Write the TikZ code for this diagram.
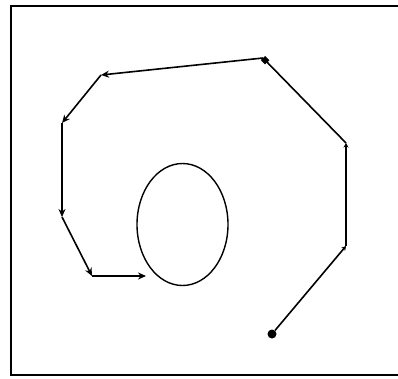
\documentclass[tikz,border=0pt]{standalone}
\usepackage{tikz}
\usetikzlibrary{arrows.meta,shapes.geometric}

\begin{document}
\begin{tikzpicture}[
    x=1pt, y=-1pt,
    frame/.style={line width=1.8pt, black},
    leg/.style={line width=1.6pt, -{Stealth[length=8pt,width=7pt]}},
    smallleg/.style={line width=1.6pt, -{Stealth[length=4.5pt,width=5pt]}},
    sqleg/.style={line width=1.6pt, -{Square[length=6pt,width=6pt]}},
    dot/.style={circle, fill=black, inner sep=0pt, minimum size=9pt},
    obstacle/.style={ellipse, draw, line width=1.4pt, minimum width=91pt,
                     minimum height=122pt, inner sep=0pt}
]
\useasboundingbox (0,0) rectangle (398,378);
% frame (right edge runs off the page)
\draw[frame] (398,6) -- (11,6) -- (11,375) -- (398,375);

% obstacle
\node[obstacle] (obst) at (182.5,224.5) {};

% way points
\node[dot] (start) at (272,334) {};
\coordinate (w1) at (346,246);
\coordinate (w2) at (346,143);
\coordinate (w3) at (263,58);
\coordinate (w4) at (101,75);
\coordinate (w5) at (62,123);
\coordinate (w6) at (62,217);
\coordinate (w7) at (92,276);
\coordinate (w8) at (146,276);

\draw[smallleg] (start) -- (w1);
\draw[smallleg] (w1) -- (w2);
\draw[sqleg] (w2) -- (w3);
\draw[leg] (w3) -- (w4);
\draw[leg] (w4) -- (w5);
\draw[leg] (w5) -- (w6);
\draw[leg] (w6) -- (w7);
\draw[leg] (w7) -- (w8);
\end{tikzpicture}
\end{document}
